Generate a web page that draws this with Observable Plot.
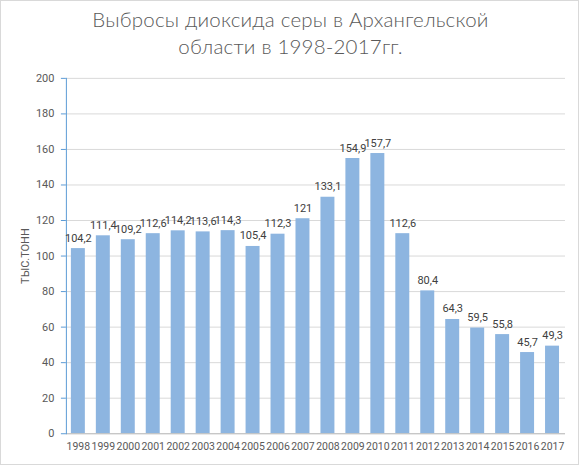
<!DOCTYPE html>
<html>
<head>
<meta charset="utf-8">
<script src="https://cdn.jsdelivr.net/npm/d3@7"></script>
<script src="https://cdn.jsdelivr.net/npm/@observablehq/plot@0.6"></script>
<style>
  html, body { margin: 0; padding: 0; background: #fff; }
  #wrap { position: relative; width: 579px; height: 465px; box-sizing: border-box; border: 1px solid #d9d9d9; overflow: hidden; }
  #title { position: absolute; left: 0; top: 5px; width: 579px; text-align: center; font-family: Lato, "Open Sans", sans-serif; font-weight: 300; font-size: 20.5px; line-height: 27px; color: #595959; letter-spacing: 0.2px; }
  #chart { position: absolute; left: -1px; top: -1px; }
</style>
</head>
<body>
<div id="wrap">
  <div id="title">Выбросы диоксида серы в Архангельской<br>области в 1998-2017гг.</div>
  <div id="chart"></div>
</div>
<script>
const years = ["1998","1999","2000","2001","2002","2003","2004","2005","2006","2007","2008","2009","2010","2011","2012","2013","2014","2015","2016","2017"];
const emissions = [104.2, 111.4, 109.2, 112.6, 114.2, 113.6, 114.3, 105.4, 112.3, 121, 133.1, 154.9, 157.7, 112.6, 80.4, 64.3, 59.5, 55.8, 45.7, 49.3];
const yTicks = [0, 20, 40, 60, 80, 100, 120, 140, 160, 180, 200];
const yLabel = "ТЫС.ТОНН";

const data = years.map((y, i) => ({year: y, value: emissions[i], label: String(emissions[i]).replace(".", ",")}));

const chart = Plot.plot({
  width: 579,
  height: 465,
  marginTop: 78,
  marginBottom: 31,
  marginLeft: 66,
  marginRight: 13,
  style: {fontFamily: "Roboto, 'Open Sans', sans-serif", fontSize: "11px", color: "#595959", background: "transparent"},
  x: {domain: years, paddingInner: 0.43, paddingOuter: 0.215, label: null},
  y: {domain: [0, 200], label: null},
  marks: [
    Plot.gridY(yTicks, {stroke: "#d9d9d9", strokeOpacity: 1}),
    Plot.barY(data, {x: "year", y: "value", fill: "#8db5e0"}),
    Plot.ruleY([0], {stroke: "#bfbfbf"}),
    Plot.frame({anchor: "left", stroke: "#5b9bd5"}),
    Plot.axisY(yTicks, {tickSize: 5, tickPadding: 7, stroke: "#5b9bd5", fill: "#595959", fontSize: 11, label: null}),
    Plot.axisX({tickSize: 0, tickPadding: 9, fill: "#595959", fontSize: 10.5, letterSpacing: "-0.2px", label: null}),
    Plot.text(data, {x: "year", y: "value", text: "label", dy: -7, lineAnchor: "bottom", fill: "#404040", fontSize: 11, letterSpacing: "-0.4px"}),
    Plot.text([yLabel], {frameAnchor: "left", textAnchor: "middle", dx: -41, rotate: -90, text: d => d, fill: "#595959", fontSize: 11, letterSpacing: "0.3px"})
  ]
});
document.getElementById("chart").appendChild(chart);
</script>
</body>
</html>
